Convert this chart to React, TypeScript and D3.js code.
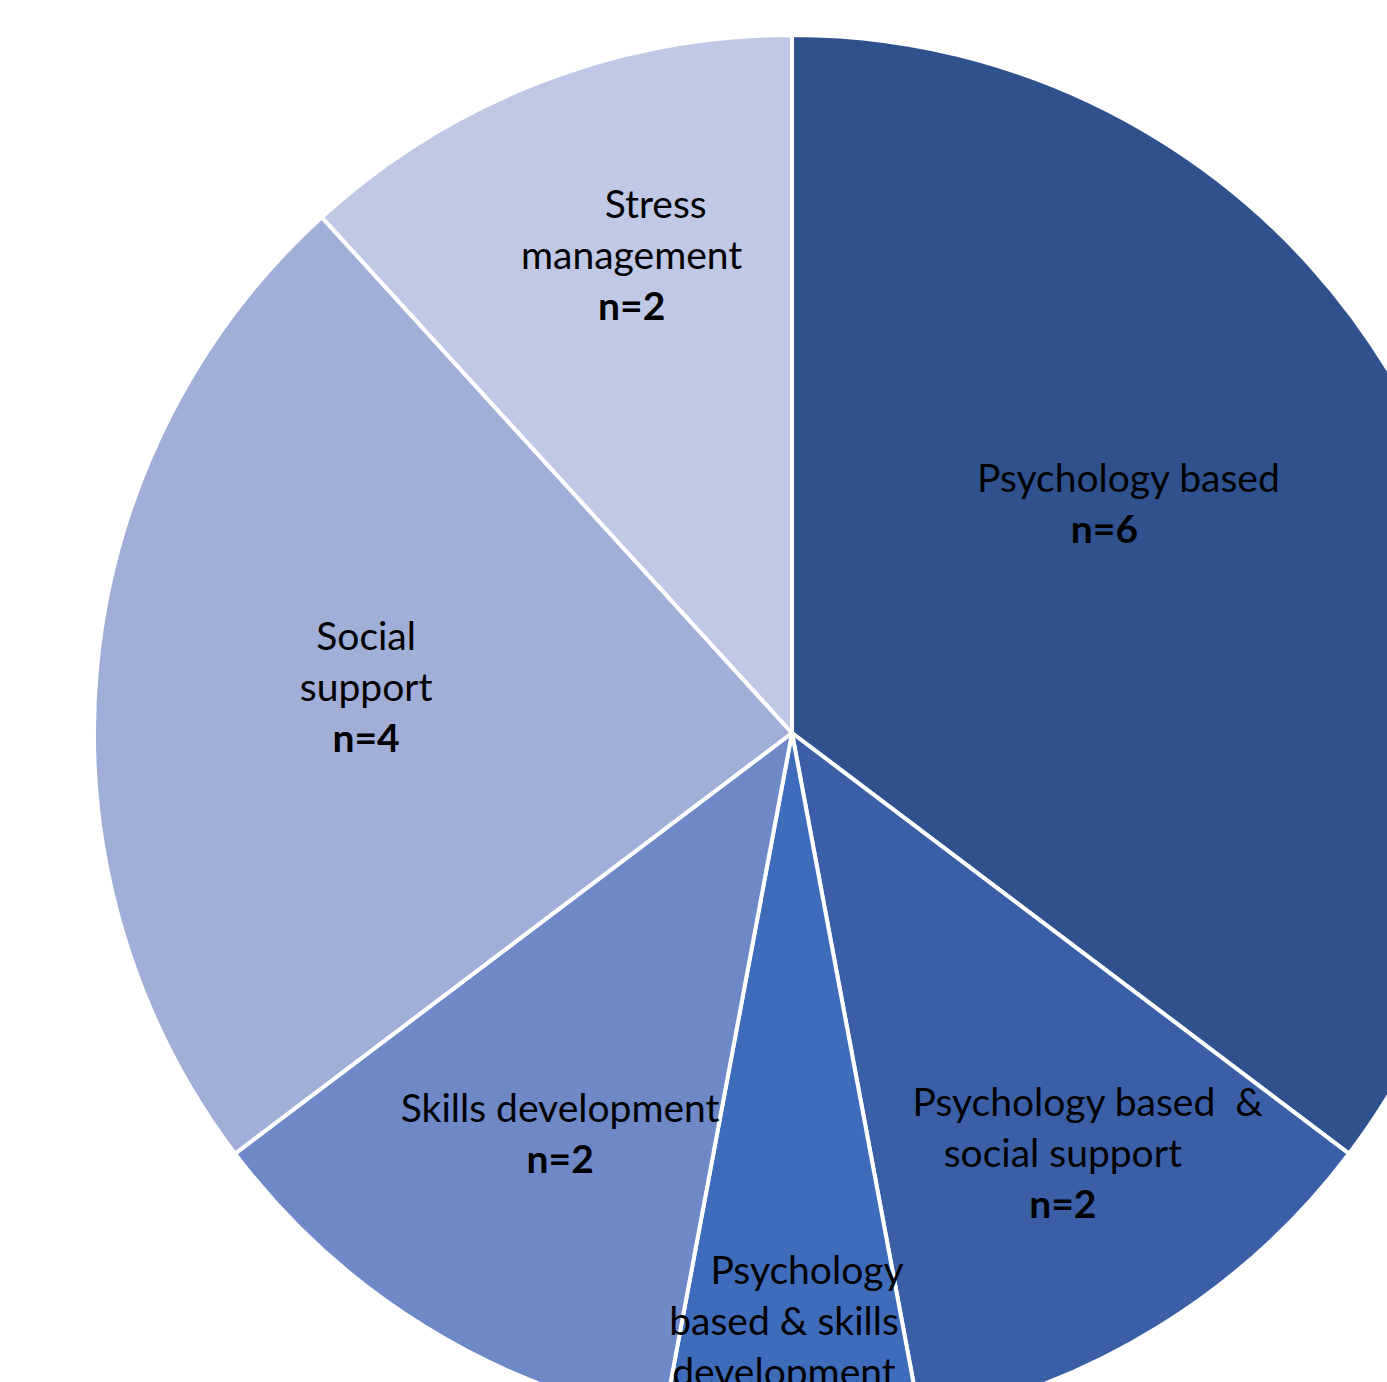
import React from "react";
import * as d3 from "d3";

// slice data, clockwise from 12 o'clock
const categories = [
  "Psychology based",
  "Psychology based & social support",
  "Psychology based & skills development",
  "Skills development",
  "Social support",
  "Stress management",
];
const counts = [6, 2, 1, 2, 4, 2];
const colors = ["#2F528F", "#3A5FA7", "#3F6CBA", "#6E88C8", "#A0AED8", "#BFC9E5"];

// label text as it is broken into lines in the chart
const labelLines = [
  ["Psychology based"],
  ["Psychology based  &", "social support"],
  ["Psychology", "based & skills", "development"],
  ["Skills development"],
  ["Social", "support"],
  ["Stress", "management"],
];

const W = 1387;
const H = 1382;
const cx = 792;
const cy = 733;
const R = 698;
const lineH = 51;

// small hand nudges so labels sit where excel put them
const nudge: [number, number][] = [
  [-75, -23],
  [43, 66],
  [-8, 195],
  [-4, 47],
  [5, 8],
  [-4, -60],
];
const firstLineDx = [24, 25, 23, 0, 0, 24];

export default function App() {
  const pie = d3
    .pie<number>()
    .sort(null)
    .value((d) => d);
  const arcs = pie(counts);
  const arc = d3.arc<d3.PieArcDatum<number>>().innerRadius(0).outerRadius(R);
  const labelArc = d3
    .arc<d3.PieArcDatum<number>>()
    .innerRadius(R * 0.62)
    .outerRadius(R * 0.62);

  return (
    <svg
      width={W}
      height={H}
      style={{ position: "absolute", left: 0, top: 0, background: "#fff" }}
      fontFamily="Lato, 'Open Sans', sans-serif"
    >
      <g transform={`translate(${cx},${cy})`}>
        {arcs.map((a, i) => (
          <path
            key={categories[i]}
            d={arc(a) || ""}
            fill={colors[i]}
            stroke="#fff"
            strokeWidth={4}
            strokeLinejoin="round"
          />
        ))}
        {arcs.map((a, i) => {
          const [x0, y0] = labelArc.centroid(a);
          const x = x0 + nudge[i][0];
          const y = y0 + nudge[i][1];
          const lines = [...labelLines[i], `n=${counts[i]}`];
          const top = y - ((lines.length - 1) / 2) * lineH;
          return (
            <text key={i} textAnchor="middle" fontSize={39} fill="#000" style={{ whiteSpace: "pre" }}>
              {lines.map((t, k) => (
                <tspan
                  key={k}
                  x={x + (k === 0 ? firstLineDx[i] : 0)}
                  y={top + k * lineH}
                  fontWeight={k === lines.length - 1 ? 700 : 400}
                >
                  {t}
                </tspan>
              ))}
            </text>
          );
        })}
      </g>
    </svg>
  );
}
